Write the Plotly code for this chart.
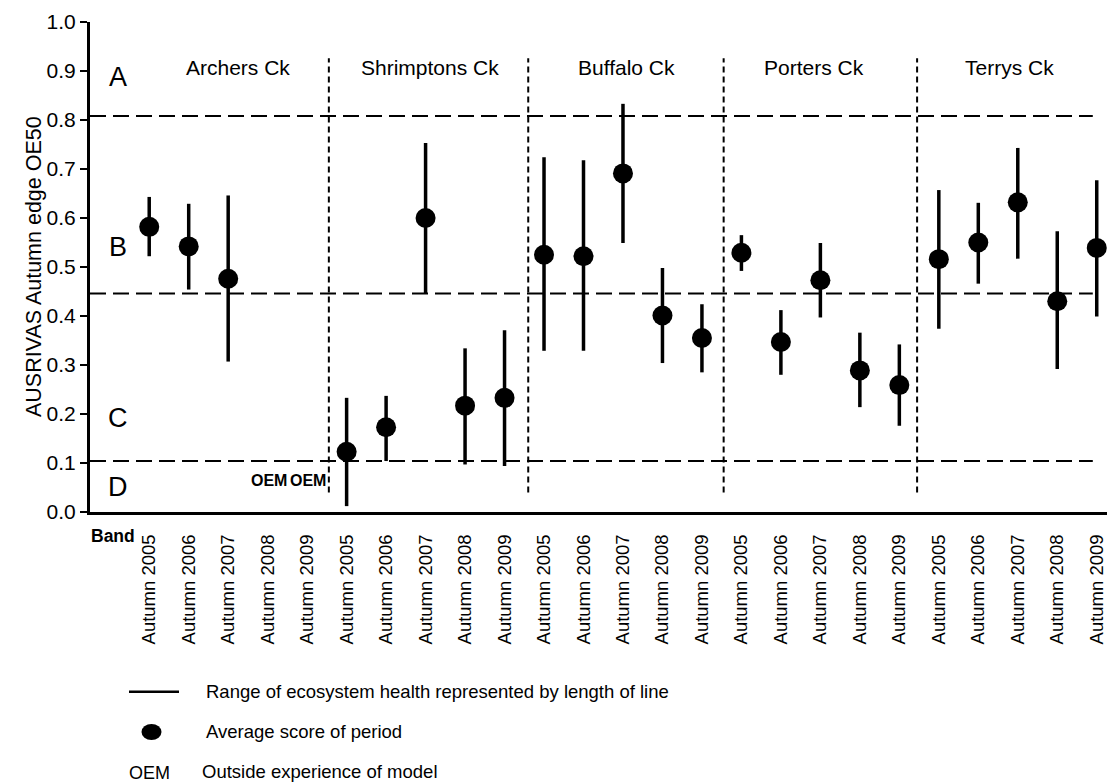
import plotly.graph_objects as go

FONT = "Liberation Sans, Arial, Helvetica, sans-serif"

creeks = ["Archers Ck", "Shrimptons Ck", "Buffalo Ck", "Porters Ck", "Terrys Ck"]
years = ["Autumn 2005", "Autumn 2006", "Autumn 2007", "Autumn 2008", "Autumn 2009"]

# average score (None = OEM, outside experience of model)
mean_vals = [0.582, 0.542, 0.476, None, None,
             0.123, 0.173, 0.600, 0.217, 0.233,
             0.525, 0.522, 0.691, 0.401, 0.355,
             0.529, 0.347, 0.473, 0.289, 0.259,
             0.516, 0.550, 0.632, 0.430, 0.539]
low_vals = [0.522, 0.454, 0.307, None, None,
            0.012, 0.104, 0.446, 0.097, 0.094,
            0.329, 0.329, 0.549, 0.304, 0.285,
            0.492, 0.280, 0.397, 0.214, 0.176,
            0.374, 0.466, 0.517, 0.292, 0.399]
high_vals = [0.643, 0.629, 0.646, None, None,
             0.233, 0.237, 0.753, 0.334, 0.371,
             0.724, 0.718, 0.833, 0.498, 0.424,
             0.565, 0.412, 0.549, 0.366, 0.342,
             0.657, 0.631, 0.743, 0.573, 0.677]

band_limits = [0.808, 0.446, 0.104]
band_letters = ["A", "B", "C", "D"]
band_letter_y = [0.888, 0.541, 0.191, 0.052]

n = len(mean_vals)
xpos = list(range(1, n + 1))
tick_text = [years[i % 5] for i in range(n)]

fig = go.Figure()

# range whiskers
wx, wy = [], []
for x, lo, hi in zip(xpos, low_vals, high_vals):
    if lo is None:
        continue
    wx += [x, x, None]
    wy += [lo, hi, None]
fig.add_trace(go.Scatter(x=wx, y=wy, mode="lines",
                         line=dict(color="black", width=3.5),
                         hoverinfo="skip", showlegend=False))

# average points
fig.add_trace(go.Scatter(x=xpos, y=mean_vals, mode="markers",
                         marker=dict(color="black", size=20, symbol="circle"),
                         showlegend=False))

# band limit dashed lines
for b in band_limits:
    fig.add_trace(go.Scatter(x=[-0.5, 24.9], y=[b, b], mode="lines",
                             line=dict(color="black", width=2, dash="16px,7px"),
                             hoverinfo="skip", showlegend=False))

# creek separators
sep_x = [5.55, 10.6, 15.55, 20.45]
for sx in sep_x:
    fig.add_trace(go.Scatter(x=[sx, sx], y=[0.04, 0.926], mode="lines",
                             line=dict(color="black", width=2, dash="6px,4px"),
                             hoverinfo="skip", showlegend=False))

annotations = []
# creek labels
creek_x = [3.25, 8.1, 13.1, 17.85, 22.8]
for cx, name in zip(creek_x, creeks):
    annotations.append(dict(x=cx, y=0.907, xref="x", yref="y", text=name,
                            showarrow=False, font=dict(size=21, color="black", family=FONT)))
# band letters
for letter, ly in zip(band_letters, band_letter_y):
    annotations.append(dict(x=0.21, y=ly, xref="x", yref="y", text=letter,
                            showarrow=False, font=dict(size=27, color="black", family=FONT)))
# OEM markers
for x, m in zip(xpos, mean_vals):
    if m is None:
        annotations.append(dict(x=x + 0.03, y=0.065, xref="x", yref="y", text="<b>OEM</b>",
                                showarrow=False, font=dict(size=16, color="black", family=FONT)))
# Band label
annotations.append(dict(x=0.69, y=-0.049, xref="x", yref="paper", text="<b>Band</b>",
                        xanchor="right", yanchor="middle", showarrow=False,
                        font=dict(size=17.5, color="black", family=FONT)))
# y-axis title
annotations.append(dict(x=-0.0688, y=0.5, xref="paper", yref="paper",
                        text="AUSRIVAS Autumn edge OE50", textangle=-90,
                        showarrow=False, font=dict(size=21.5, color="black", family=FONT)))

# legend (drawn manually)
def px_x(p):
    return (p - 90) / 1017.0

def px_y(p):
    return (512 - p) / 490.0

shapes = [
    dict(type="line", xref="paper", yref="paper",
         x0=px_x(129), x1=px_x(179), y0=px_y(691.7), y1=px_y(691.7),
         line=dict(color="black", width=2.5)),
    dict(type="circle", xref="paper", yref="paper", fillcolor="black",
         line=dict(color="black", width=0),
         x0=px_x(141.5), x1=px_x(161.5), y0=px_y(724), y1=px_y(740)),
]
legend_texts = [
    (204, 691.7, "Range of ecosystem health represented by length of line"),
    (204, 731.0, "Average score of period"),
    (200, 771.7, "Outside experience of model"),
]
for lx, ly, t in legend_texts:
    annotations.append(dict(x=px_x(lx), y=px_y(ly), xref="paper", yref="paper", text=t,
                            xanchor="left", yanchor="middle", showarrow=False,
                            font=dict(size=18.5, color="black", family=FONT)))
annotations.append(dict(x=px_x(149.5), y=px_y(773), xref="paper", yref="paper", text="OEM",
                        xanchor="center", yanchor="middle", showarrow=False,
                        font=dict(size=18, color="black", family=FONT)))

fig.update_layout(
    width=1107, height=782,
    margin=dict(l=90, r=0, t=22, b=270, pad=0),
    paper_bgcolor="white", plot_bgcolor="white",
    font=dict(family=FONT, color="black"),
    showlegend=False,
    annotations=annotations,
    shapes=shapes,
    xaxis=dict(range=[-0.5, 25.26], tickmode="array", tickvals=xpos, ticktext=tick_text,
               tickangle=-90, ticks="", showgrid=False, zeroline=False,
               showline=True, linecolor="black", linewidth=3,
               tickfont=dict(size=18.5, color="black", family=FONT),
               ticklabelstandoff=12),
    yaxis=dict(range=[0, 1.0], tickmode="linear", tick0=0, dtick=0.1, tickformat=".1f",
               ticks="outside", ticklen=7, tickwidth=2, tickcolor="black",
               showgrid=False, zeroline=False, showline=True, linecolor="black",
               linewidth=3, tickfont=dict(size=21, color="black", family=FONT)),
)

fig.write_html("out.html")
